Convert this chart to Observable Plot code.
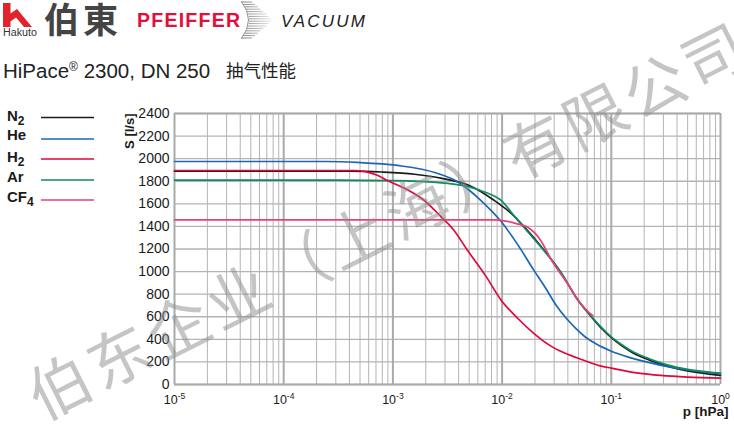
<!DOCTYPE html>
<html><head><meta charset="utf-8">
<script src="https://cdn.jsdelivr.net/npm/d3@7"></script>
<script src="https://cdn.jsdelivr.net/npm/@observablehq/plot@0.6"></script>
<style>
html,body{margin:0;padding:0;background:#fff;}
#wrap{position:relative;width:734px;height:428px;overflow:hidden;font-family:"Liberation Sans",Arial,sans-serif;}
#deco{position:absolute;left:0;top:0;}
#chart{position:absolute;left:0;top:100px;}
#wm{position:absolute;left:0;top:0;pointer-events:none;}
</style></head>
<body><div id="wrap">
<svg id="deco" width="734" height="428"></svg>
<div id="chart"></div>
<svg id="wm" width="734" height="428"></svg>
</div>
<script>
// ---- data ----
const gases = ["N2", "He", "H2", "Ar", "CF4"];
const gasColors = ["#1a1a1a", "#1c66b8", "#e2063c", "#0f8c5c", "#ea3f7b"];
const decades = [1e-5, 1e-4, 1e-3, 1e-2, 1e-1, 1];
const yTicks = [0, 200, 400, 600, 800, 1000, 1200, 1400, 1600, 1800, 2000, 2200, 2400];

const n2P = [1e-5, 4.0e-4, 7.9e-4, 1.58e-3, 2.82e-3, 5.0e-3, 8.3e-3, 1.26e-2, 1.58e-2, 2.4e-2, 3.47e-2, 4.9e-2, 6.3e-2, 7.9e-2, 0.1, 0.126, 0.158, 0.2, 0.282, 0.4, 0.63, 1];
const n2S = [1890, 1890, 1882, 1862, 1825, 1762, 1636, 1500, 1400, 1195, 990, 752, 620, 510, 415, 340, 280, 235, 180, 140, 105, 80];

const heP = [1e-5, 2.5e-4, 4.7e-4, 1.1e-3, 2.5e-3, 4.0e-3, 5.0e-3, 6.3e-3, 9.8e-3, 1.41e-2, 1.95e-2, 2.5e-2, 3.16e-2, 3.8e-2, 4.7e-2, 5.6e-2, 7.1e-2, 0.1, 0.141, 0.2, 0.4, 1];
const heS = [1975, 1975, 1967, 1940, 1873, 1790, 1720, 1636, 1443, 1230, 1013, 855, 695, 595, 500, 432, 365, 295, 245, 205, 142, 95];

const h2P = [1e-5, 4.47e-4, 5.6e-4, 7.1e-4, 8.9e-4, 1.45e-3, 1.9e-3, 2.75e-3, 3.6e-3, 4.8e-3, 7.1e-3, 9.8e-3, 1.41e-2, 1.95e-2, 2.8e-2, 3.4e-2, 5.6e-2, 7.9e-2, 0.1, 0.178, 0.282, 0.5, 1];
const h2S = [1895, 1895, 1885, 1855, 1807, 1709, 1636, 1487, 1369, 1191, 960, 747, 580, 453, 340, 296, 215, 165, 145, 100, 80, 65, 56];

const arP = [1e-5, 3.16e-4, 1e-3, 2.5e-3, 4.8e-3, 7.1e-3, 9.8e-3, 1.26e-2, 1.58e-2, 2.4e-2, 3.47e-2, 4.9e-2, 6.3e-2, 7.9e-2, 0.1, 0.126, 0.158, 0.2, 0.282, 0.4, 0.63, 1];
const arS = [1810, 1810, 1805, 1790, 1754, 1700, 1630, 1505, 1392, 1190, 988, 755, 625, 518, 422, 350, 290, 245, 192, 152, 120, 100];

const cf4P = [1e-5, 7.9e-3, 1.12e-2, 1.41e-2, 1.7e-2, 2.0e-2, 2.24e-2, 2.95e-2, 3.98e-2, 5.2e-2, 6.8e-2];
const cf4S = [1458, 1458, 1445, 1420, 1395, 1340, 1280, 1073, 894, 720, 607];

// draw order (bottom to top)
const series = [
  ["N2", n2P, n2S], ["He", heP, heS], ["Ar", arP, arS], ["CF4", cf4P, cf4S], ["H2", h2P, h2S]
];
const rows = series.flatMap(([gas, P, S]) => P.map((p, i) => ({gas, p, s: S[i]})));

// minor gridlines 2..9 x 10^k
const minorTicks = [];
for (let k = -5; k < 0; k++) for (let m = 2; m <= 9; m++) minorTicks.push(m * Math.pow(10, k));

const font = '"Liberation Sans", Arial, sans-serif';

const chart = Plot.plot({
  width: 734, height: 328,
  marginTop: 13, marginRight: 14, marginBottom: 44, marginLeft: 174,
  style: {fontFamily: font, color: "#1a1a1a", background: "transparent", overflow: "visible"},
  x: {type: "log", domain: [1e-5, 1]},
  y: {domain: [0, 2400]},
  color: {domain: gases, range: gasColors},
  marks: [
    Plot.ruleX(minorTicks, {stroke: "#b4b4b4", strokeWidth: 1}),
    Plot.ruleY(yTicks, {stroke: "#b4b4b4", strokeWidth: 1.3}),
    Plot.ruleX(decades, {stroke: "#aaaaaa", strokeWidth: 2}),
    Plot.ruleY([0, 2400], {stroke: "#aaaaaa", strokeWidth: 2}),
    Plot.axisY(yTicks, {tickSize: 0, tickPadding: 5, fontSize: 14, label: null, fill: "#1a1a1a",
      tickFormat: d => String(d)}),
    Plot.axisX(decades, {tickSize: 0, tickPadding: 11, fontSize: 12.5, label: null, fill: "#1a1a1a",
      tickFormat: d => "10^" + Math.round(Math.log10(d))}),
    Plot.line(rows, {x: "p", y: "s", z: "gas", stroke: "gas", strokeWidth: 1.7, curve: "monotone-x"}),
    Plot.text(["S [l/s]"], {frameAnchor: "top-left", dx: -50, rotate: -90, textAnchor: "end",
      fontWeight: "bold", fontSize: 13, fill: "#1a1a1a"}),
    Plot.text(["p [hPa]"], {frameAnchor: "bottom-right", dx: 8, dy: 31, textAnchor: "end",
      fontWeight: "bold", fontSize: 13.5, fill: "#1a1a1a"})
  ]
});
document.getElementById("chart").appendChild(chart);

// superscript exponents on x tick labels
d3.select(chart).selectAll('g[aria-label="x-axis tick label"] text').each(function () {
  const t = d3.select(this);
  const [base, exp] = t.text().split("^");
  t.text(null);
  t.append("tspan").text(base);
  t.append("tspan").attr("dy", "-5").attr("font-size", "8.5").text(exp);
});

// ---- header + legend ----
const deco = d3.select("#deco");
// Hakuto logo
deco.append("path").attr("d", "M3,3 H10.5 V13.5 L17,9 L32,27 H24 L16,17.5 L10.5,21.5 V27 H3 Z").attr("fill", "#e2232b");
deco.append("text").attr("x", 3).attr("y", 35.5).attr("font-family", font).attr("font-size", 10)
  .attr("fill", "#333").attr("textLength", 34).attr("lengthAdjust", "spacingAndGlyphs").text("Hakuto");
deco.append("text").attr("x", 44).attr("y", 33).attr("font-family", '"Noto Sans CJK TC"').attr("font-weight", "bold")
  .attr("font-size", 35).attr("letter-spacing", 4).attr("fill", "#444").text("伯東");
deco.append("text").attr("x", 137).attr("y", 27).attr("font-family", font).attr("font-weight", "bold")
  .attr("font-size", 19.5).attr("fill", "#e30f3a").attr("textLength", 103).attr("lengthAdjust", "spacing").text("PFEIFFER");
// swoosh
const grad = deco.append("defs").append("linearGradient").attr("id", "sw").attr("gradientUnits", "userSpaceOnUse")
  .attr("x1", 242).attr("x2", 274).attr("y1", 0).attr("y2", 0);
grad.append("stop").attr("offset", 0).attr("stop-color", "#444");
grad.append("stop").attr("offset", 1).attr("stop-color", "#f0f0f0");
for (let i = 0; i <= 15; i++) {
  const y = 2 + i * 2.4;
  const t = (y - 2) / 36;
  const x0 = 242 + 7 * Math.sin(Math.PI * t);
  const x1 = 273 - Math.abs(y - 20) * 1.15;
  if (x1 > x0 + 1) deco.append("line").attr("x1", x0).attr("x2", x1).attr("y1", y).attr("y2", y)
    .attr("stroke", "url(#sw)").attr("stroke-width", 0.7);
}
deco.append("path").attr("d", "M241,1 Q256,20 241,39").attr("fill", "none").attr("stroke", "#666").attr("stroke-width", 0.7);
deco.append("text").attr("x", 281).attr("y", 27).attr("font-family", font).attr("font-style", "italic")
  .attr("font-size", 17).attr("fill", "#222").attr("textLength", 84).attr("lengthAdjust", "spacing").text("VACUUM");
// title
const title = deco.append("text").attr("x", 3).attr("y", 78).attr("font-family", font).attr("font-size", 20.5).attr("fill", "#222");
title.append("tspan").text("HiPace");
title.append("tspan").attr("font-size", 12).attr("dy", -7).text("®");
title.append("tspan").attr("dy", 7).text(" 2300, DN 250");
deco.append("text").attr("x", 226).attr("y", 77).attr("font-family", '"Noto Sans CJK SC"').attr("font-size", 17.5)
  .attr("fill", "#222").text("抽气性能");

// legend
const legendItems = [
  {name: "N", sub: "2", ty: 121, ly: 117.5},
  {name: "He", sub: "", ty: 139.5, ly: 139},
  {name: "H", sub: "2", ty: 161.5, ly: 159},
  {name: "Ar", sub: "", ty: 181.5, ly: 180},
  {name: "CF", sub: "4", ty: 201.5, ly: 200}
];
const legendGas = ["N2", "He", "H2", "Ar", "CF4"];
legendItems.forEach((d, i) => {
  const t = deco.append("text").attr("x", 7).attr("y", d.ty).attr("font-family", font).attr("font-weight", "bold")
    .attr("font-size", 15).attr("fill", "#1a1a1a");
  t.append("tspan").text(d.name);
  if (d.sub) t.append("tspan").attr("dy", 4).attr("font-size", 12).text(d.sub);
  deco.append("line").attr("x1", 41).attr("x2", 94).attr("y1", d.ly).attr("y2", d.ly)
    .attr("stroke", gasColors[gases.indexOf(legendGas[i])]).attr("stroke-width", 1.5);
});

// watermark
d3.select("#wm").append("text").attr("x", 385).attr("y", 218)
  .attr("transform", "rotate(-26.8 385 218)").attr("text-anchor", "middle").attr("dominant-baseline", "central")
  .attr("font-family", '"Noto Sans CJK SC"').attr("font-size", 62).attr("fill", "#8c8c8c").attr("fill-opacity", 0.5)
  .attr("textLength", 795).attr("lengthAdjust", "spacing").text("伯东企业（上海）有限公司");
</script>
</body></html>
